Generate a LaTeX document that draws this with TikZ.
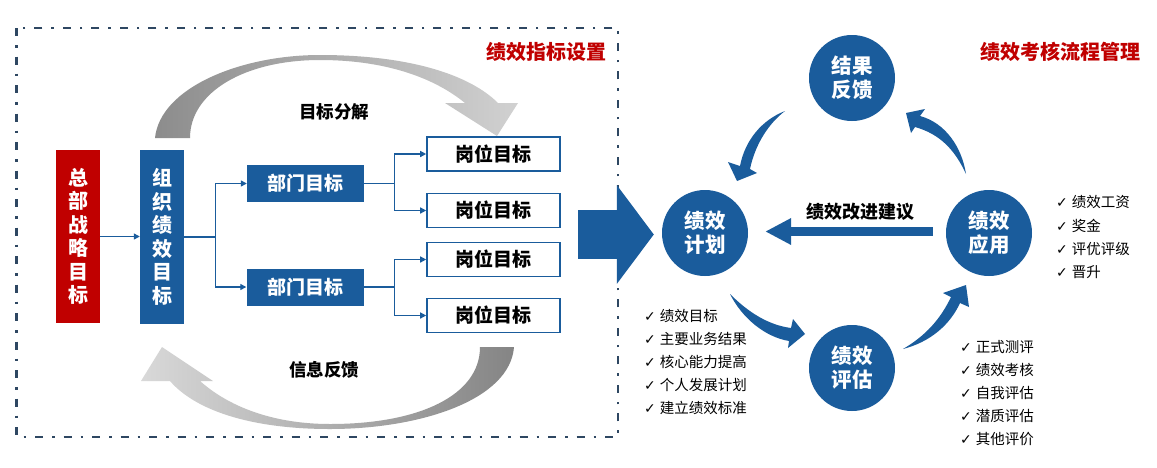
\documentclass[tikz,border=0pt]{standalone}
\usepackage{fontspec}
\setmainfont{Noto Sans CJK SC}
\newfontfamily\symfont{DejaVu Sans}
\usetikzlibrary{arrows.meta}
\definecolor{cblue}{HTML}{1A5C9C}
\definecolor{cred}{HTML}{C00000}
\definecolor{cframe}{HTML}{2E4762}
\newcommand{\ckm}{{\symfont\fontsize{14}{16}\selectfont ✓}\hspace{4pt}}
\tikzset{
  vbox/.style={minimum width=44pt, inner sep=0pt, align=center, text=white,
    font=\fontsize{20}{23.5}\selectfont\bfseries},
  deptbox/.style={fill=cblue, text=white, minimum width=117pt, minimum height=37pt,
    inner sep=0pt, font=\fontsize{19}{22}\selectfont\bfseries},
  postbox/.style={draw=cblue, line width=1.6pt, fill=white, text=black, minimum width=133pt,
    minimum height=34pt, inner sep=0pt, font=\fontsize{19}{22}\selectfont\bfseries},
  cline/.style={draw=cblue, line width=1.3pt},
  carrow/.style={draw=cblue, line width=1.3pt, -{Triangle[length=6pt,width=6pt]}},
  circ/.style={circle, fill=cblue, minimum size=86pt, inner sep=0pt, text=white,
    align=center, font=\fontsize{20.5}{24}\selectfont\bfseries},
  titletext/.style={text=cred, font=\fontsize{20}{24}\selectfont\bfseries},
  labeltext/.style={text=black, font=\fontsize{17.5}{21}\selectfont\bfseries},
  chk/.style={anchor=west, inner sep=0pt, text=black, font=\fontsize{14.5}{17}\selectfont},
}
\begin{document}
\begin{tikzpicture}[x=1pt,y=-1pt]
\useasboundingbox (0,0) rectangle (1157,467);
\fill[white] (0,0) rectangle (1157,467);

% frame
\draw[cframe, line width=2.6pt, dash pattern=on 8pt off 9pt on 2.5pt off 9pt]
  (16.6,28) rectangle (618,437);

% titles
\node[titletext] (t1) at (546,52) {绩效指标设置};
\node[titletext] (t2) at (1060,52) {绩效考核流程管理};

% gray arcs
\shade[left color=black!45, right color=black!18]
  (155,138) .. controls (160,88) and (240,55) .. (320,55)
  .. controls (410,55) and (470,75) .. (498,103)
  -- (518,103) -- (497,136) -- (445,103) -- (465,103)
  .. controls (432,76) and (382,60) .. (320,60)
  .. controls (245,60) and (190,92) .. (190,138) -- cycle;
\shade[left color=black!15, right color=black!48]
  (514,347) .. controls (510,400) and (420,429) .. (330,429)
  .. controls (250,429) and (195,410) .. (170,381)
  -- (141,381) -- (162,347) -- (213,381) -- (200,381)
  .. controls (228,406) and (272,424) .. (330,424)
  .. controls (420,424) and (480,395) .. (480,347) -- cycle;
\node[labeltext] (lab1) at (334,112) {目标分解};
\node[labeltext] (lab2) at (324,370) {信息反馈};

% left tree
\node[vbox, fill=cred, minimum height=173pt] (hq) at (78,236.5) {总\\部\\战\\略\\目\\标};
\node[vbox, fill=cblue, minimum height=174pt] (org) at (162,237) {组\\织\\绩\\效\\目\\标};
\node[deptbox] (d1) at (305.5,183.5) {部门目标};
\node[deptbox] (d2) at (305,287) {部门目标};
\node[postbox] (g1) at (493.5,154) {岗位目标};
\node[postbox] (g2) at (493.5,210.5) {岗位目标};
\node[postbox] (g3) at (493.5,259.5) {岗位目标};
\node[postbox] (g4) at (493.5,315.5) {岗位目标};

\draw[carrow] (hq.east) -- (hq.east -| org.west);
\coordinate (j1) at ([xshift=31pt]org.east);
\draw[cline] (org.east) -- (j1);
\draw[carrow] (j1) |- (d1.west);
\draw[carrow] (j1) |- (d2.west);
\coordinate (j2) at ([xshift=30pt]d1.east);
\draw[cline] (d1.east) -- (j2);
\draw[carrow] (j2) |- (g1.west);
\draw[carrow] (j2) |- (g2.west);
\coordinate (j3) at ([xshift=31pt]d2.east);
\draw[cline] (d2.east) -- (j3);
\draw[carrow] (j3) |- (g3.west);
\draw[carrow] (j3) |- (g4.west);

% right cycle
\node[circ] (jg) at (852,78) {结果\\反馈};
\node[circ] (jh) at (705,233) {绩效\\计划};
\node[circ] (jy) at (989,233) {绩效\\应用};
\node[circ] (jp) at (852,368) {绩效\\评估};

% big arrow
\coordinate (bs) at (578,234.5);
\coordinate (be) at ([xshift=-8pt]jh.west);
\draw[cblue, line width=49pt, -{Triangle[length=37pt,width=97pt]}] (bs) -- (be |- bs);

% improvement arrow
\draw[cblue, line width=9pt, -{Triangle[length=26pt,width=25pt]}]
  ([xshift=-13pt,yshift=1.5pt]jy.west) -- ([xshift=17pt,yshift=1.5pt]jh.east);
\node[text=black, font=\fontsize{18}{21}\selectfont\bfseries] (imp) at (860,212) {绩效改进建议};

% curved arrows
\fill[cblue] (785,111) .. controls (762,120) and (745,140) .. (740,166)
  -- (728,162) -- (737,181) -- (757,173) -- (750,169)
  .. controls (755,145) and (768,124) .. (785,111) -- cycle;
\fill[cblue] (966,174) .. controls (955,150) and (940,134) .. (915,127)
  -- (911,133) -- (906,113) -- (925,109) -- (920,116)
  .. controls (946,123) and (962,148) .. (966,174) -- cycle;
\fill[cblue] (730,294) .. controls (742,318) and (765,337) .. (789,341)
  -- (788,348) -- (805,334) -- (793,319) -- (791,328)
  .. controls (768,325) and (748,312) .. (730,294) -- cycle;
\fill[cblue] (903,349) .. controls (930,342) and (950,325) .. (960,303)
  -- (969,307) -- (966,285) -- (943,293) -- (951,297)
  .. controls (940,320) and (925,336) .. (903,349) -- cycle;

% check lists
\node[chk] (p1) at (644,316) {\ckm 绩效目标};
\node[chk] (p2) at (644,338.5) {\ckm 主要业务结果};
\node[chk] (p3) at (644,361.5) {\ckm 核心能力提高};
\node[chk] (p4) at (644,385) {\ckm 个人发展计划};
\node[chk] (p5) at (644,408) {\ckm 建立绩效标准};

\node[chk] (e1) at (960,347) {\ckm 正式测评};
\node[chk] (e2) at (960,370) {\ckm 绩效考核};
\node[chk] (e3) at (960,393) {\ckm 自我评估};
\node[chk] (e4) at (960,416) {\ckm 潜质评估};
\node[chk] (e5) at (960,439) {\ckm 其他评价};

\node[chk] (a1) at (1056,202) {\ckm 绩效工资};
\node[chk] (a2) at (1056,226) {\ckm 奖金};
\node[chk] (a3) at (1056,248.5) {\ckm 评优评级};
\node[chk] (a4) at (1056,272) {\ckm 晋升};
\end{tikzpicture}
\end{document}
